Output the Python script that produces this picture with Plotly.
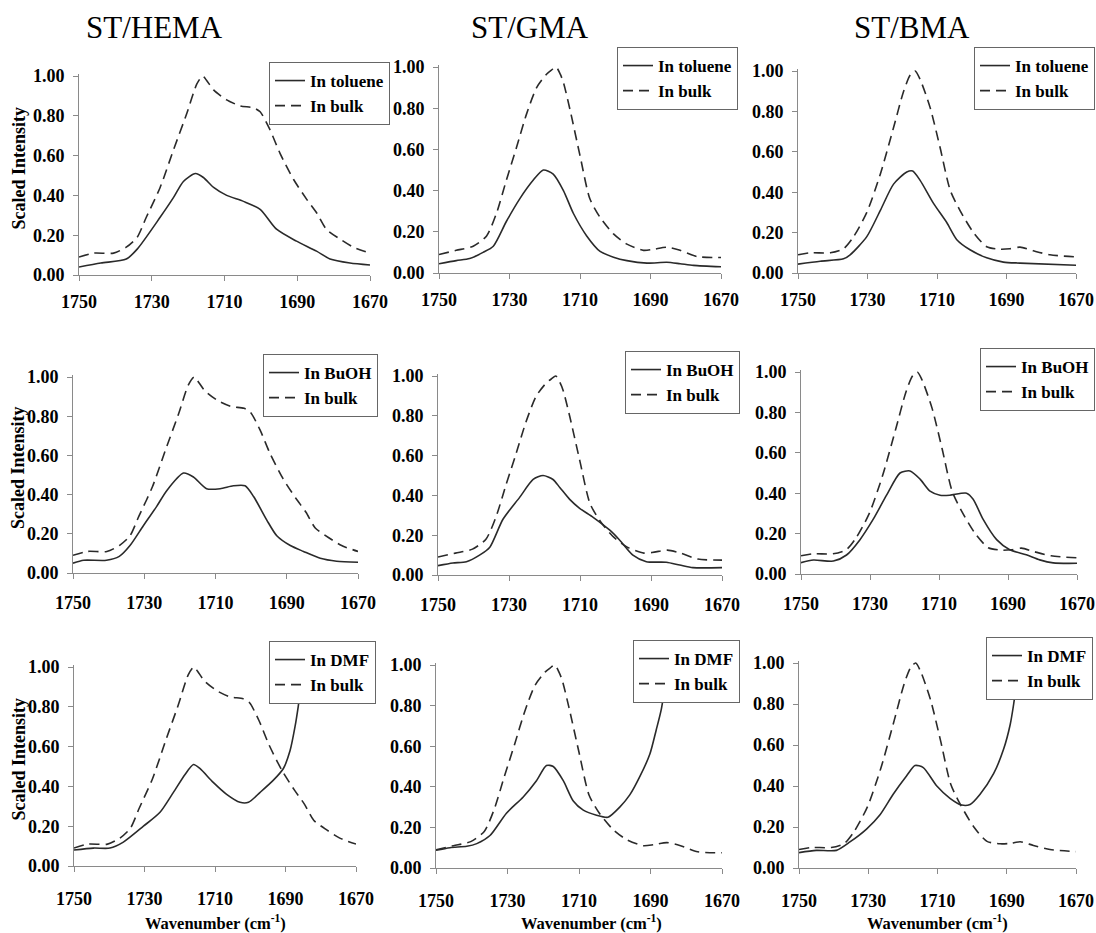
import plotly.graph_objects as go

W, H = 1096, 933

# ---------------- data (wavenumber cm-1, scaled intensity) ----------------
COLUMN_TITLES = ["ST/HEMA", "ST/GMA", "ST/BMA"]
SOLVENTS = ["toluene", "BuOH", "DMF"]
X_TICKS = [1750, 1730, 1710, 1690, 1670]
Y_TICKS = [0.0, 0.2, 0.4, 0.6, 0.8, 1.0]

# ST/HEMA
HEMA_BULK_WN = [1750, 1746, 1740.5, 1737, 1734, 1731.5, 1727.7, 1724, 1720.4, 1717.6, 1716, 1715, 1713,
                1709.4, 1705.7, 1702, 1700.2, 1697.5, 1694.7, 1691, 1687.4, 1684.6, 1682, 1678.2, 1674.6, 1670]
HEMA_BULK_I = [0.09, 0.11, 0.11, 0.14, 0.19, 0.29, 0.44, 0.63, 0.81, 0.96, 1.00, 0.98, 0.93,
               0.88, 0.85, 0.84, 0.82, 0.73, 0.61, 0.48, 0.38, 0.31, 0.23, 0.18, 0.14, 0.11]
HEMA_TOL_WN = [1750, 1744, 1737, 1734, 1727.7, 1724, 1721.3, 1718, 1715.8, 1713, 1709.4, 1704.8,
               1700.2, 1695.7, 1690.2, 1684.7, 1681, 1675.5, 1670]
HEMA_TOL_I = [0.04, 0.06, 0.08, 0.13, 0.29, 0.39, 0.47, 0.51, 0.49, 0.44, 0.40, 0.37,
              0.33, 0.23, 0.17, 0.12, 0.08, 0.06, 0.05]
HEMA_BUOH_WN = [1750, 1747, 1740.6, 1737, 1734, 1730.3, 1726.5, 1723.7, 1719, 1716.2, 1712.5, 1708.7,
                1705, 1701.7, 1699.3, 1695.6, 1692.8, 1689, 1685.3, 1680.6, 1676, 1670]
HEMA_BUOH_I = [0.05, 0.065, 0.065, 0.085, 0.14, 0.24, 0.34, 0.42, 0.51, 0.49, 0.43, 0.43,
               0.445, 0.445, 0.39, 0.27, 0.19, 0.14, 0.11, 0.075, 0.06, 0.055]
HEMA_DMF_WN = [1750, 1744.5, 1739.8, 1736, 1730.3, 1725.6, 1721.8, 1718.5, 1716.1, 1714.3, 1710.5,
               1706.7, 1702.9, 1700.5, 1697.2, 1693.5, 1690.6, 1688.7, 1687.3, 1686.4, 1685, 1684]
HEMA_DMF_I = [0.08, 0.09, 0.09, 0.12, 0.20, 0.27, 0.37, 0.46, 0.51, 0.49, 0.42,
              0.36, 0.32, 0.32, 0.37, 0.43, 0.49, 0.58, 0.70, 0.80, 0.98, 1.10]

# ST/GMA
GMA_BULK_WN = [1750, 1745.1, 1740.3, 1736.5, 1733.7, 1730.9, 1728, 1725.2, 1722.3, 1719.5, 1718.1, 1716.8,
               1715.6, 1714.7, 1712.8, 1710, 1707.2, 1704.3, 1700.5, 1696.7, 1692, 1689.1, 1685.4, 1681.6,
               1676.8, 1670]
GMA_BULK_I = [0.09, 0.11, 0.13, 0.18, 0.29, 0.45, 0.61, 0.77, 0.90, 0.965, 0.985, 1.00,
              0.965, 0.925, 0.79, 0.57, 0.36, 0.27, 0.19, 0.14, 0.11, 0.115, 0.125, 0.11,
              0.08, 0.075]
GMA_TOL_WN = [1750, 1745.1, 1741.3, 1737.5, 1734.6, 1730.9, 1727.1, 1723.3, 1720.4, 1717.6, 1714.7,
              1711.9, 1708.1, 1704.3, 1700.5, 1696.7, 1691, 1685.4, 1681.6, 1677.8, 1670]
GMA_TOL_I = [0.045, 0.06, 0.07, 0.10, 0.13, 0.25, 0.36, 0.45, 0.50, 0.48, 0.40,
             0.29, 0.18, 0.105, 0.077, 0.06, 0.048, 0.052, 0.045, 0.037, 0.03]
GMA_BUOH_WN = [1750, 1745.8, 1742, 1738.3, 1735.4, 1731.7, 1727, 1723.2, 1720.4, 1717.6, 1715.7, 1712.9,
               1710.1, 1706.3, 1701.6, 1698.8, 1695.1, 1691.3, 1685.7, 1681.9, 1678.2, 1670]
GMA_BUOH_I = [0.047, 0.06, 0.067, 0.10, 0.14, 0.28, 0.39, 0.48, 0.50, 0.48, 0.44, 0.38,
              0.335, 0.29, 0.225, 0.175, 0.10, 0.067, 0.064, 0.05, 0.037, 0.037]
GMA_DMF_WN = [1750, 1746.1, 1741.4, 1738.6, 1734.9, 1730.3, 1725.6, 1721.9, 1719.1, 1717.2, 1714.4, 1711.6,
              1708.8, 1705.1, 1701.9, 1698.6, 1695.8, 1693, 1690.2, 1688.4, 1687, 1685.5, 1684.5]
GMA_DMF_I = [0.087, 0.10, 0.107, 0.12, 0.16, 0.27, 0.35, 0.43, 0.505, 0.50, 0.43, 0.33,
             0.285, 0.26, 0.25, 0.30, 0.36, 0.45, 0.56, 0.68, 0.78, 0.95, 1.08]

# ST/BMA
BMA_BULK_WN = [1750, 1746.5, 1740.7, 1736.9, 1734, 1730.2, 1726.3, 1722.5, 1719.6, 1717.7, 1716.3, 1714.9,
               1712, 1709.1, 1706.2, 1703.4, 1699.5, 1695.7, 1691.9, 1689, 1686.1, 1682.3, 1677.5, 1670]
BMA_BULK_I = [0.09, 0.10, 0.10, 0.12, 0.18, 0.30, 0.49, 0.72, 0.90, 0.98, 1.00, 0.96,
              0.82, 0.62, 0.41, 0.31, 0.20, 0.13, 0.118, 0.12, 0.128, 0.11, 0.09, 0.08]
BMA_TOL_WN = [1750, 1743.6, 1736.9, 1735, 1730.2, 1726.3, 1722.5, 1718.7, 1717, 1714.9, 1711,
              1707.2, 1704.3, 1700.5, 1695.7, 1690.9, 1686.1, 1670]
BMA_TOL_I = [0.044, 0.058, 0.07, 0.09, 0.18, 0.31, 0.44, 0.50, 0.505, 0.46, 0.345,
             0.25, 0.165, 0.115, 0.075, 0.054, 0.049, 0.038]
BMA_BUOH_WN = [1750, 1746.4, 1740.6, 1736.8, 1732.9, 1729.1, 1725.2, 1721.3, 1718.4, 1715.5, 1712.6,
               1709.7, 1706.9, 1702, 1700.1, 1697.2, 1693.3, 1689.5, 1684.7, 1680.8, 1676.9, 1670]
BMA_BUOH_I = [0.056, 0.069, 0.064, 0.094, 0.17, 0.27, 0.39, 0.50, 0.51, 0.47, 0.41,
              0.39, 0.39, 0.40, 0.37, 0.27, 0.17, 0.12, 0.095, 0.07, 0.055, 0.053]
BMA_DMF_WN = [1750, 1745, 1739.2, 1735.3, 1730.5, 1726.6, 1722.8, 1718.9, 1716.5, 1714.1, 1710.2,
              1706.4, 1703, 1700.6, 1697.7, 1693.8, 1690.9, 1689, 1688, 1686.8, 1686]
BMA_DMF_I = [0.075, 0.086, 0.086, 0.127, 0.19, 0.26, 0.36, 0.45, 0.50, 0.49, 0.40,
             0.34, 0.307, 0.31, 0.36, 0.46, 0.58, 0.70, 0.80, 0.95, 1.05]

SOLVENT_DATA = [
    [(HEMA_TOL_WN, HEMA_TOL_I), (GMA_TOL_WN, GMA_TOL_I), (BMA_TOL_WN, BMA_TOL_I)],
    [(HEMA_BUOH_WN, HEMA_BUOH_I), (GMA_BUOH_WN, GMA_BUOH_I), (BMA_BUOH_WN, BMA_BUOH_I)],
    [(HEMA_DMF_WN, HEMA_DMF_I), (GMA_DMF_WN, GMA_DMF_I), (BMA_DMF_WN, BMA_DMF_I)],
]
BULK_DATA = [(HEMA_BULK_WN, HEMA_BULK_I), (GMA_BULK_WN, GMA_BULK_I), (BMA_BULK_WN, BMA_BULK_I)]

# ---------------- layout geometry (pixels) ----------------
# (left, right, y=1.00 pixel, y=0.00 pixel) of each plot area
PANEL_PX = [
    [(79, 370, 76, 275), (439, 721, 67, 273), (798, 1076, 71, 273)],
    [(73, 358, 377, 573), (438, 722, 376, 575), (801, 1077, 372, 574)],
    [(74, 356, 667, 866), (436, 722, 665, 868), (799, 1076, 663, 868)],
]
LEGEND_PX = [  # (right, top)
    [(390, 62), (738, 47), (1095, 47)],
    [(378, 354), (740, 351), (1095, 348)],
    [(376, 641), (740, 640), (1093, 637)],
]
XLABEL_STANDOFF = [5, 8, 11]
TITLE_PX = [(154, 28), (530, 28), (912, 28)]
YMAX = 1.01

FONT = "Liberation Serif"
LINE_COLOR = "#2a2a2a"
AXIS_COLOR = "#8a8a8a"

fig = go.Figure()
layout = dict(
    width=W, height=H, margin=dict(l=0, r=0, t=0, b=0, autoexpand=False),
    paper_bgcolor="white", plot_bgcolor="white",
    font=dict(family=FONT, color="black"),
    annotations=[],
)

k = 0
for r in range(3):
    for c in range(3):
        k += 1
        sfx = "" if k == 1 else str(k)
        left, right, top1, bottom = PANEL_PX[r][c]
        top = bottom - (bottom - top1) * YMAX
        xa, ya = "x" + sfx, "y" + sfx
        leg = "legend" + sfx
        wn, inten = SOLVENT_DATA[r][c]
        bwn, binten = BULK_DATA[c]
        fig.add_trace(go.Scatter(
            x=wn, y=inten, mode="lines", name="In " + SOLVENTS[r],
            line=dict(color=LINE_COLOR, width=1.6, shape="spline", smoothing=0.7),
            xaxis=xa, yaxis=ya, legend=leg))
        fig.add_trace(go.Scatter(
            x=bwn, y=binten, mode="lines", name="In bulk",
            line=dict(color=LINE_COLOR, width=1.6, dash="10px,6px", shape="spline", smoothing=0.7),
            xaxis=xa, yaxis=ya, legend=leg))

        tickfont = dict(family=FONT, size=18, color="black", weight="bold")
        layout["xaxis" + sfx] = dict(
            domain=[left / W, right / W], anchor=ya,
            range=[1750, 1670], tickvals=X_TICKS, ticktext=[str(v) for v in X_TICKS],
            showline=True, linecolor=AXIS_COLOR, linewidth=1,
            ticks="outside", ticklen=5, tickcolor=AXIS_COLOR,
            showgrid=False, zeroline=False, tickfont=tickfont,
            ticklabelstandoff=XLABEL_STANDOFF[r],
        )
        layout["yaxis" + sfx] = dict(
            domain=[1 - bottom / H, 1 - top / H], anchor=xa,
            range=[0, YMAX], tickvals=Y_TICKS, tickformat=".2f",
            showline=True, linecolor=AXIS_COLOR, linewidth=1,
            ticks="outside", ticklen=5, tickcolor=AXIS_COLOR,
            showgrid=False, zeroline=False, tickfont=tickfont, ticklabelstandoff=5,
        )
        lx, ly = LEGEND_PX[r][c]
        layout[leg] = dict(
            x=lx / W, y=1 - ly / H, xanchor="right", yanchor="top",
            xref="paper", yref="paper",
            bgcolor="white", bordercolor="#666", borderwidth=1,
            font=dict(family=FONT, size=17, color="black", weight="bold"),
            itemwidth=30, traceorder="normal",
        )
        if c == 0:
            layout["annotations"].append(dict(
                text="Scaled Intensity", textangle=-90, showarrow=False,
                xref="paper", yref="paper", x=18 / W, y=1 - ((top1 + bottom) / 2 - 7) / H,
                xanchor="center", yanchor="middle",
                font=dict(family=FONT, size=18, color="black", weight="bold")))
        if r == 2:
            cx = (left + right) / 2 + (12 if c == 1 else 0)
            layout["annotations"].append(dict(
                text="Wavenumber (cm<sup>-1</sup>)", showarrow=False,
                xref="paper", yref="paper", x=cx / W, y=1 - 922 / H,
                xanchor="center", yanchor="middle",
                font=dict(family=FONT, size=16.5, color="black", weight="bold")))

for c in range(3):
    tx, ty = TITLE_PX[c]
    layout["annotations"].append(dict(
        text=COLUMN_TITLES[c], showarrow=False, xref="paper", yref="paper",
        x=tx / W, y=1 - ty / H, xanchor="center", yanchor="middle",
        font=dict(family=FONT, size=31, color="black")))

fig.update_layout(**layout)
fig.write_html("out.html")
